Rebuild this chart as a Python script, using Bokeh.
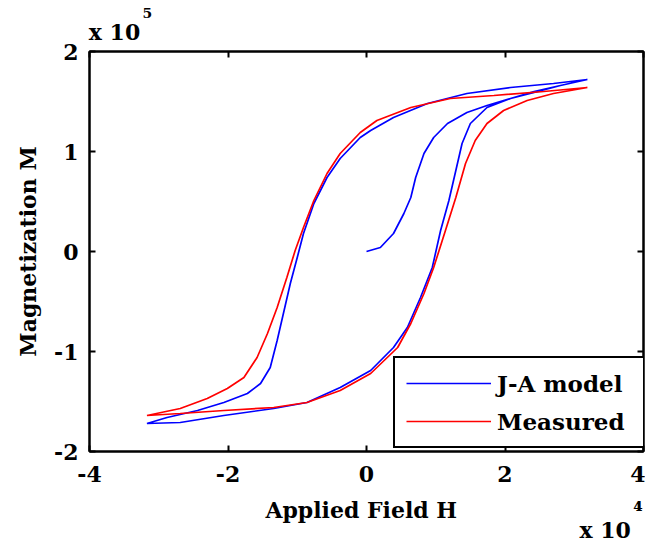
from bokeh.plotting import figure
from bokeh.models import LinearAxis, FixedTicker, Legend, LegendItem, Label, Range1d
from bokeh.embed import file_html
from bokeh.resources import INLINE

# ---- data (H in units of 1e4, M in units of 1e5) ----
# J-A model: initial curve, descending branch, ascending branch
ja_h = [0.00, 0.20, 0.39, 0.54, 0.64, 0.71, 0.83, 0.97, 1.17, 1.45, 1.74, 2.08, 2.42, 2.80, 3.19,
        2.70, 2.08, 1.45, 0.88, 0.39, 0.06, -0.09, -0.38, -0.57, -0.76, -0.91, -1.00, -1.10, -1.19, -1.29,
        -1.39, -1.53, -1.72, -2.06, -2.44, -2.88, -3.17,
        -2.69, -2.06, -1.34, -0.86, -0.38, 0.06, 0.39, 0.59, 0.78, 0.95, 1.07, 1.19, 1.29, 1.38, 1.50, 1.74,
        2.08, 2.42, 2.80, 3.19]
ja_m = [0.00, 0.04, 0.18, 0.38, 0.54, 0.74, 0.98, 1.14, 1.28, 1.39, 1.46, 1.53, 1.59, 1.66, 1.72,
        1.68, 1.64, 1.58, 1.48, 1.34, 1.21, 1.14, 0.93, 0.74, 0.48, 0.18, -0.06, -0.32, -0.59, -0.89,
        -1.16, -1.32, -1.42, -1.51, -1.59, -1.66, -1.72,
        -1.71, -1.64, -1.57, -1.51, -1.36, -1.19, -0.96, -0.76, -0.46, -0.16, 0.21, 0.51, 0.81, 1.08, 1.28, 1.44,
        1.53, 1.60, 1.66, 1.72]

# Measured: descending branch, ascending branch
meas_h = [3.19, 2.56, 1.84, 1.21, 0.64, 0.15, -0.09, -0.38, -0.57, -0.76, -0.91, -1.03, -1.15, -1.29, -1.43,
          -1.58, -1.77, -2.01, -2.30, -2.69, -3.17,
          -2.69, -2.06, -1.34, -0.86, -0.38, 0.06, 0.45, 0.64, 0.83, 0.97, 1.14, 1.29, 1.43, 1.57, 1.74,
          1.98, 2.32, 2.70, 3.19]
meas_m = [1.64, 1.60, 1.56, 1.53, 1.44, 1.31, 1.19, 0.98, 0.78, 0.51, 0.24, 0.01, -0.26, -0.56, -0.82,
          -1.06, -1.26, -1.37, -1.47, -1.57, -1.64,
          -1.62, -1.59, -1.56, -1.51, -1.39, -1.22, -0.96, -0.72, -0.42, -0.16, 0.21, 0.54, 0.88, 1.11, 1.28,
          1.41, 1.51, 1.58, 1.64]

x_ticks = [-4, -2, 0, 2, 4]
y_ticks = [-2, -1, 0, 1, 2]
x_tick_labels = {-4: "-4", -2: "-2", 0: "0", 2: "2", 4: "4"}
y_tick_labels = {-2: "-2", -1: "-1", 0: "0", 1: "1", 2: "2"}
series_labels = ["J-A model", "Measured"]
x_title = "Applied Field H"
y_title = "Magnetization M"
x_exp = "4"
y_exp = "5"

FONT = "DejaVu Serif"
FS = "22px"
NB = "\u00a0"
SUP = {"4": "\u2074", "5": "\u2075"}

p = figure(width=645, height=543, output_backend="svg", toolbar_location=None,
           x_range=Range1d(-4, 4), y_range=Range1d(-2, 2),
           min_border_left=89, min_border_right=2, min_border_top=51, min_border_bottom=92)
p.background_fill_color = "white"
p.border_fill_color = "white"
p.xgrid.visible = False
p.ygrid.visible = False
p.outline_line_color = "black"
p.outline_line_width = 2

p.xaxis.ticker = FixedTicker(ticks=x_ticks)
p.yaxis.ticker = FixedTicker(ticks=y_ticks)
p.xaxis.major_label_overrides = x_tick_labels
p.yaxis.major_label_overrides = y_tick_labels
p.yaxis.axis_label = y_title

for ax in [p.xaxis[0], p.yaxis[0]]:
    ax.major_tick_in = 6
    ax.major_tick_out = 0
    ax.minor_tick_in = 0
    ax.minor_tick_out = 0
    ax.axis_line_width = 2
    ax.major_tick_line_width = 2
    ax.major_label_text_font = FONT
    ax.major_label_text_font_style = "bold"
    ax.major_label_text_font_size = FS
    ax.major_label_text_color = "black"
    ax.axis_label_text_font = FONT
    ax.axis_label_text_font_style = "bold"
    ax.axis_label_text_font_size = FS
    ax.axis_label_text_color = "black"
p.xaxis.major_label_standoff = 14
p.yaxis.major_label_standoff = 11
p.yaxis.axis_label_standoff = 10

for loc, tk in [("above", x_ticks), ("right", y_ticks)]:
    ax = LinearAxis(ticker=FixedTicker(ticks=tk), major_label_text_font_size="1px",
                    major_label_text_color=None,
                    major_label_standoff=0, major_tick_in=6, major_tick_out=0,
                    minor_tick_in=0, minor_tick_out=0, axis_line_width=2, major_tick_line_width=2)
    p.add_layout(ax, loc)

r1 = p.line(ja_h, ja_m, line_color="#0000ff", line_width=1.7)
r2 = p.line(meas_h, meas_m, line_color="#ff0000", line_width=1.7)

legend = Legend(items=[LegendItem(label=series_labels[0], renderers=[r1]),
                       LegendItem(label=series_labels[1], renderers=[r2])],
                location=(304, 3), border_line_color="black", border_line_width=2, border_line_alpha=1.0,
                background_fill_color="white", background_fill_alpha=1.0,
                glyph_width=85, glyph_height=28, label_height=28, label_width=137,
                label_text_font=FONT, label_text_font_style="bold", label_text_font_size="23px",
                label_text_color="black",
                padding=11, spacing=10, label_standoff=6, margin=0)
p.add_layout(legend)

# exponent of the y axis (top left): superscript line above "x 10"
top_text = NB * 7 + SUP[y_exp] + "\n" + "x 10"
p.add_layout(Label(x=-4.01, y=2.48, text=top_text, text_font=FONT, text_font_style="bold",
                   text_font_size=FS, text_align="left", text_baseline="top", text_line_height=0.59,
                   text_color="black"), "above")

# x axis title together with the x exponent (one text block in the bottom panel)
bottom_text = x_title + NB * 23 + SUP[x_exp] + "\n" + NB * 41 + "x 10"
p.add_layout(Label(x=-1.46, y=-2.45, text=bottom_text, text_font=FONT, text_font_style="bold",
                   text_font_size=FS, text_align="left", text_baseline="top", text_line_height=0.78,
                   text_color="black"), "below")

open("out.html", "w").write(file_html(p, INLINE))
